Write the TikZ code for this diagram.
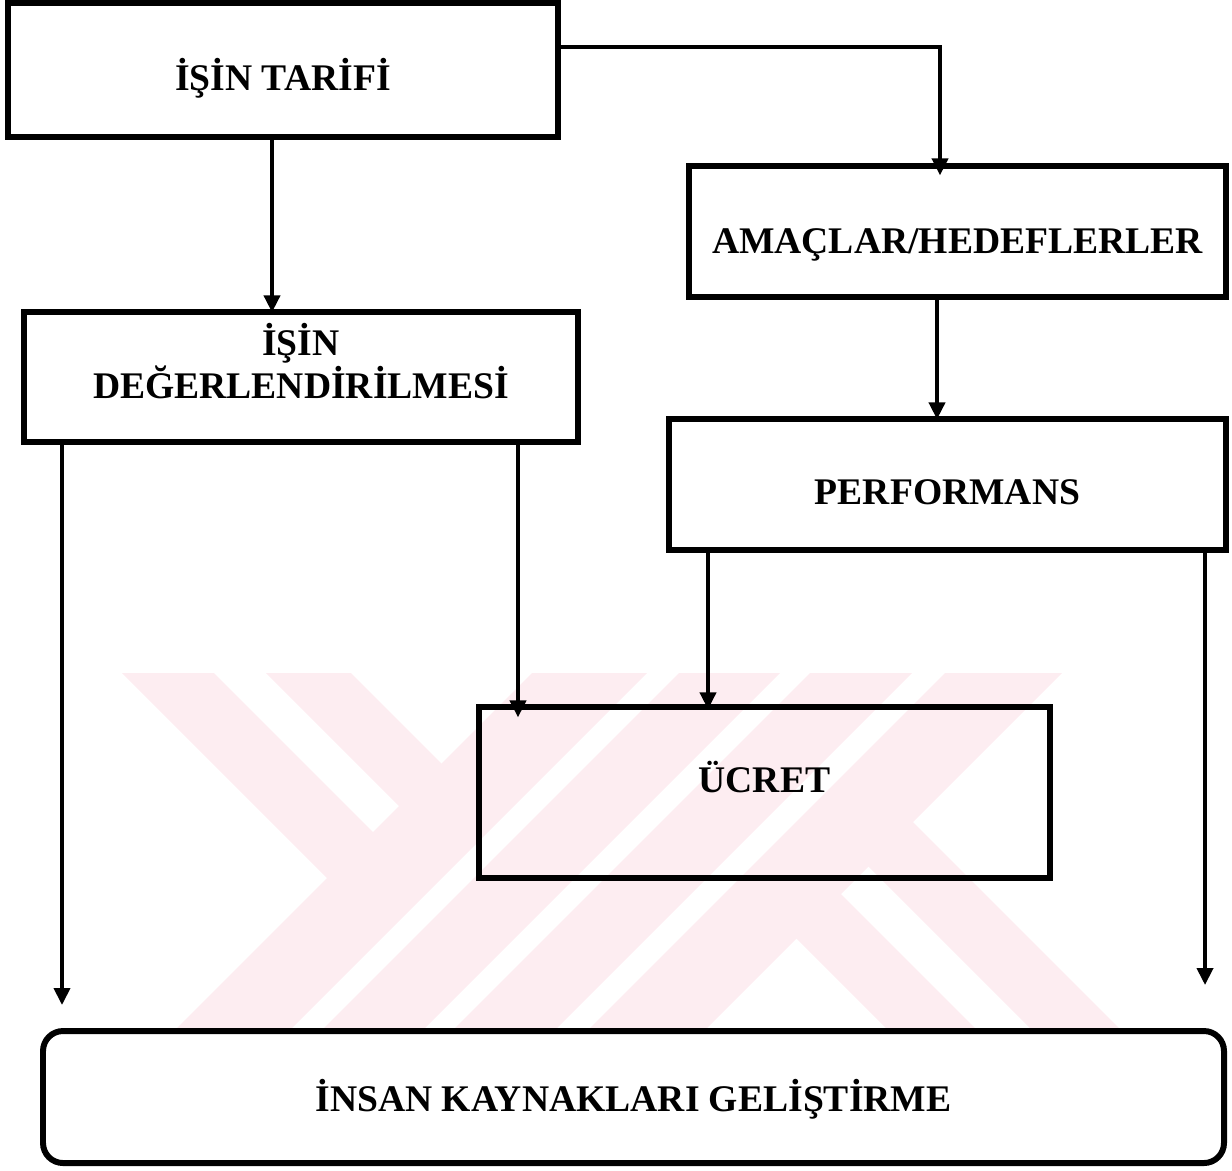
\documentclass[tikz,border=0pt]{standalone}
\usepackage{fontspec}
\setmainfont{Liberation Serif}
\usetikzlibrary{arrows.meta}
\definecolor{wmpink}{RGB}{253,237,241}

\begin{document}
\begin{tikzpicture}[x=0.1mm, y=-0.1mm,
    box/.style={rectangle, draw, line width=1.5pt, text centered, text depth=0pt,
        font=\bfseries\fontsize{10.7}{12.2}\selectfont},
    arrow/.style={-{Triangle[length=1.7mm, width=1.6mm]}, line width=1.1pt}]

    \useasboundingbox (0,0) rectangle (1232,1170);

    % watermark stripes
    \foreach \a/\b in {1205/1320, 1352/1453, 1483/1585, 1618/1735}
        \fill[wmpink] (\a-673,673) -- (\b-673,673) -- (\b-1030,1030) -- (\a-1030,1030) -- cycle;
    \fill[wmpink] (122,673) -- (214,673) -- (378,837) -- (332,883) -- cycle;
    \fill[wmpink] (266,673) -- (351,673) -- (446,768) -- (404,811) -- cycle;
    \fill[wmpink] (792,934) -- (836,889) -- (977,1030) -- (888,1030) -- cycle;
    \fill[wmpink] (864,862) -- (908,817) -- (1121,1030) -- (1032,1030) -- cycle;

    \node[box, minimum width=55mm, minimum height=13.4mm, text height=4.1mm] (tarif) at (283,70) {İŞİN TARİFİ};
    \node[box, minimum width=53.7mm, minimum height=13.1mm, text height=4.4mm] (amac) at (957.5,231.5) {AMAÇLAR/HEDEFLERLER};
    \node[box, minimum width=55.4mm, minimum height=13mm, align=center, text height=4.2mm] (deger) at (301,377) {İŞİN\\DEĞERLENDİRİLMESİ};
    \node[box, minimum width=55.7mm, minimum height=13.1mm, text height=4mm] (perf) at (947.5,484.5) {PERFORMANS};
    \node[box, minimum width=57.1mm, minimum height=17.1mm, text height=0pt] (ucret) at (764.5,792.5) {ÜCRET};
    \node[box, rounded corners=2mm, line width=1.7pt, minimum width=118.1mm, minimum height=13.2mm, text height=2.9mm] (insan) at (633.5,1097) {İNSAN KAYNAKLARI GELİŞTİRME};

    \coordinate (leftend) at (62,1005);
    \coordinate (rightend) at (1205,985);

    \draw[arrow, shorten >=-1.2mm] ([yshift=2.3mm]tarif.east) -| ([xshift=-1.75mm]amac.north);
    \draw[arrow, shorten >=-0.3mm] ([xshift=-1.1mm]tarif.south) -- ([xshift=-1.1mm]tarif.south |- deger.north);
    \draw[arrow, shorten >=-0.3mm] ([xshift=-2.05mm]amac.south) -- ([xshift=-2.05mm]amac.south |- perf.north);
    \draw[arrow] (deger.south -| leftend) -- (leftend);
    \draw[arrow, shorten >=-1.3mm] ([xshift=21.7mm]deger.south) -- ([xshift=21.7mm]deger.south |- ucret.north);
    \draw[arrow, shorten >=-0.5mm] ([xshift=-23.95mm]perf.south) -- ([xshift=-23.95mm]perf.south |- ucret.north);
    \draw[arrow] (perf.south -| rightend) -- (rightend);

\end{tikzpicture}
\end{document}
